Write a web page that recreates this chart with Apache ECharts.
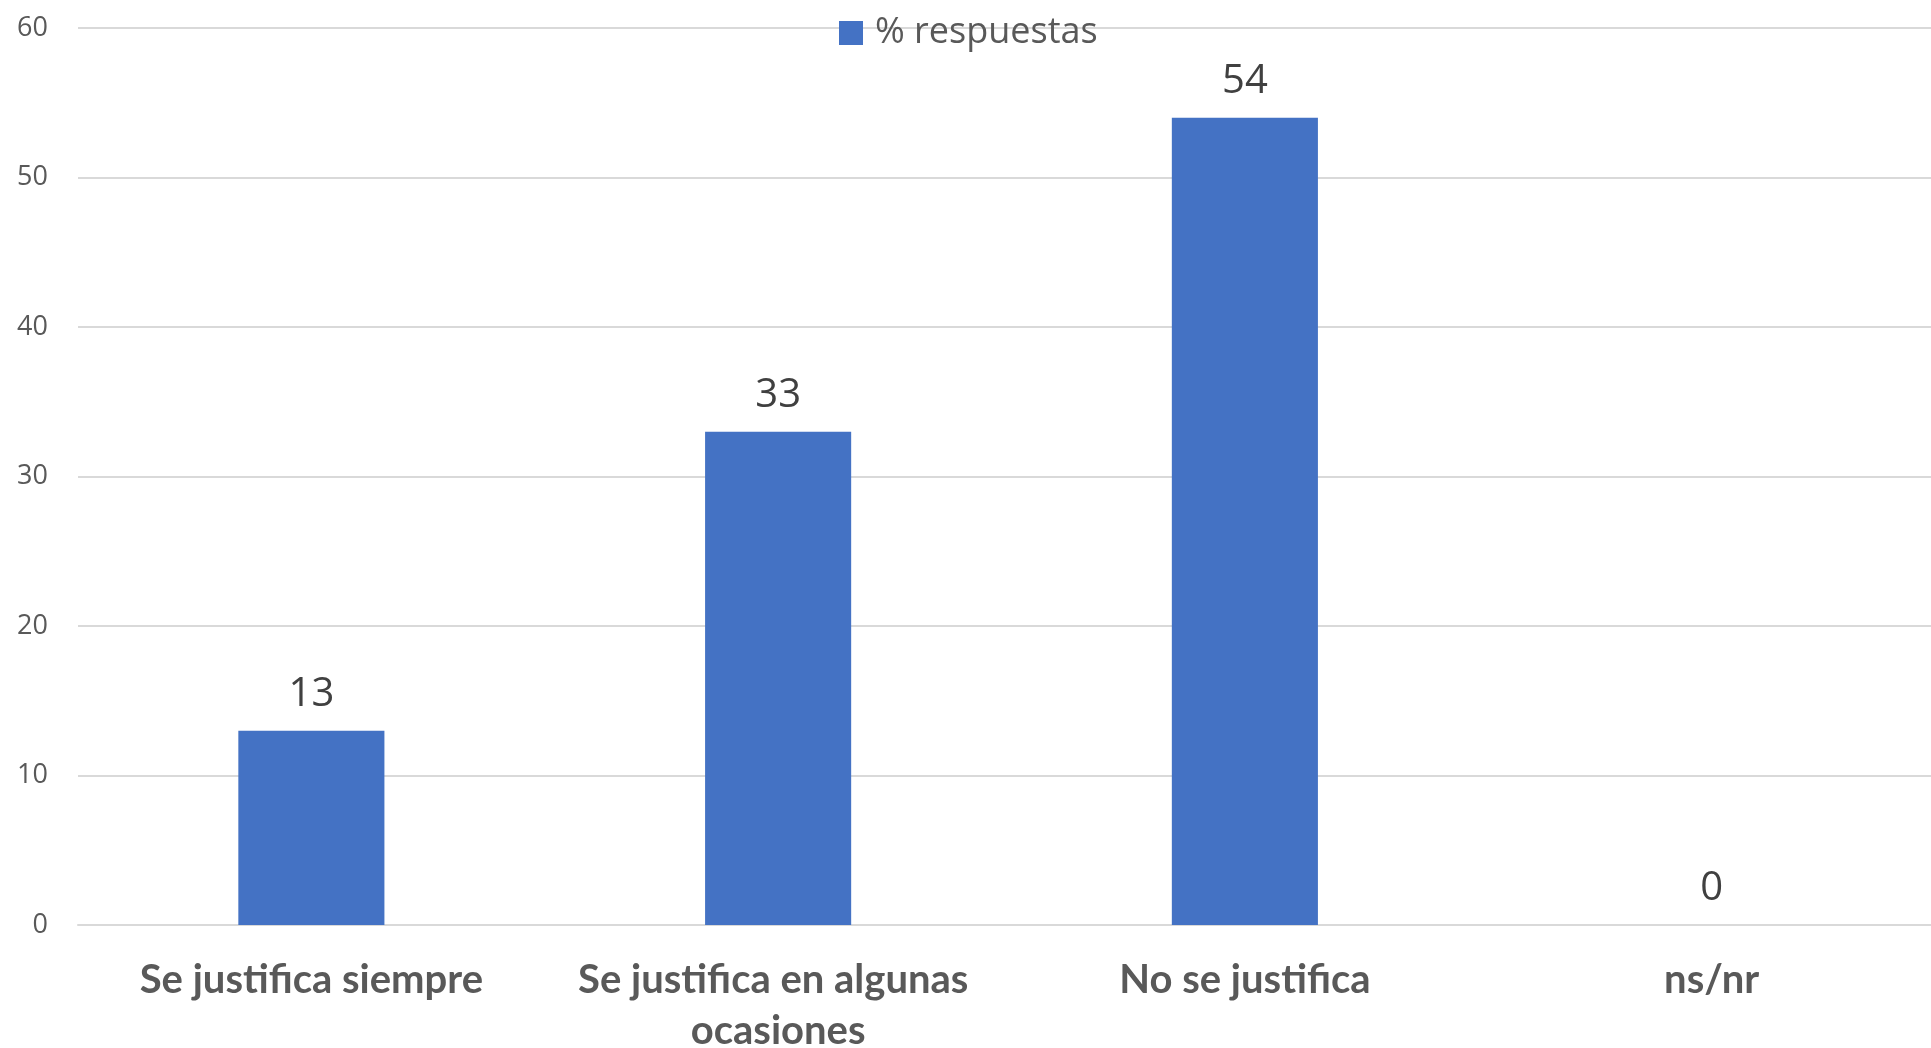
<!DOCTYPE html>
<html>
<head>
<meta charset="utf-8">
<style>
  html, body { margin: 0; padding: 0; background: #fff; }
  #chart { width: 1931px; height: 1048px; }
</style>
<script src="https://cdn.jsdelivr.net/npm/echarts@6/dist/echarts.min.js"></script>
</head>
<body>
<div id="chart"></div>
<script>
var categories = ['Se justifica siempre', 'Se justifica en algunas ocasiones', 'No se justifica', 'ns/nr'];
var seriesName = '% respuestas';
var respuestas = [13, 33, 54, 0];

var dom = document.getElementById('chart');
var myChart = echarts.init(dom, null, { renderer: 'canvas' });

var option = {
	animation: false,
	color: ['#4472C4'],
	legend: {
		top: 10,
		left: 834,
		itemWidth: 24,
		itemHeight: 24,
		icon: 'rect',
		textStyle: {
			fontFamily: 'Open Sans',
			fontSize: 36,
			color: '#595959',
			padding: [0, 0, 0, 7]
		},
		data: [seriesName]
	},
	grid: {
		left: 78,
		right: -14,
		top: 28,
		bottom: 123,
		outerBoundsMode: 'none'
	},
	xAxis: {
		type: 'category',
		data: categories,
		axisTick: { show: false },
		axisLine: {
			lineStyle: { color: '#d9d9d9', width: 2 }
		},
		axisLabel: {
			interval: 0,
			margin: 30,
			fontFamily: 'Lato',
			fontWeight: 'bold',
			fontSize: 40,
			color: '#595959',
			lineHeight: 51,
			width: 440,
			overflow: 'break'
		}
	},
	yAxis: {
		type: 'value',
		min: 0,
		max: 60,
		interval: 10,
		axisLine: { show: false },
		axisTick: { show: false },
		axisLabel: {
			margin: 30,
			fontFamily: 'Open Sans',
			fontSize: 27,
			color: '#595959'
		},
		splitLine: {
			lineStyle: { color: '#d9d9d9', width: 2 }
		}
	},
	series: [{
		name: seriesName,
		type: 'bar',
		data: respuestas,
		barWidth: '31.3%',
		label: {
			show: true,
			position: 'top',
			distance: 16,
			fontFamily: 'Open Sans',
			fontSize: 40,
			color: '#404040'
		}
	}]
};

myChart.setOption(option);
window.addEventListener('resize', myChart.resize);
</script>
</body>
</html>
